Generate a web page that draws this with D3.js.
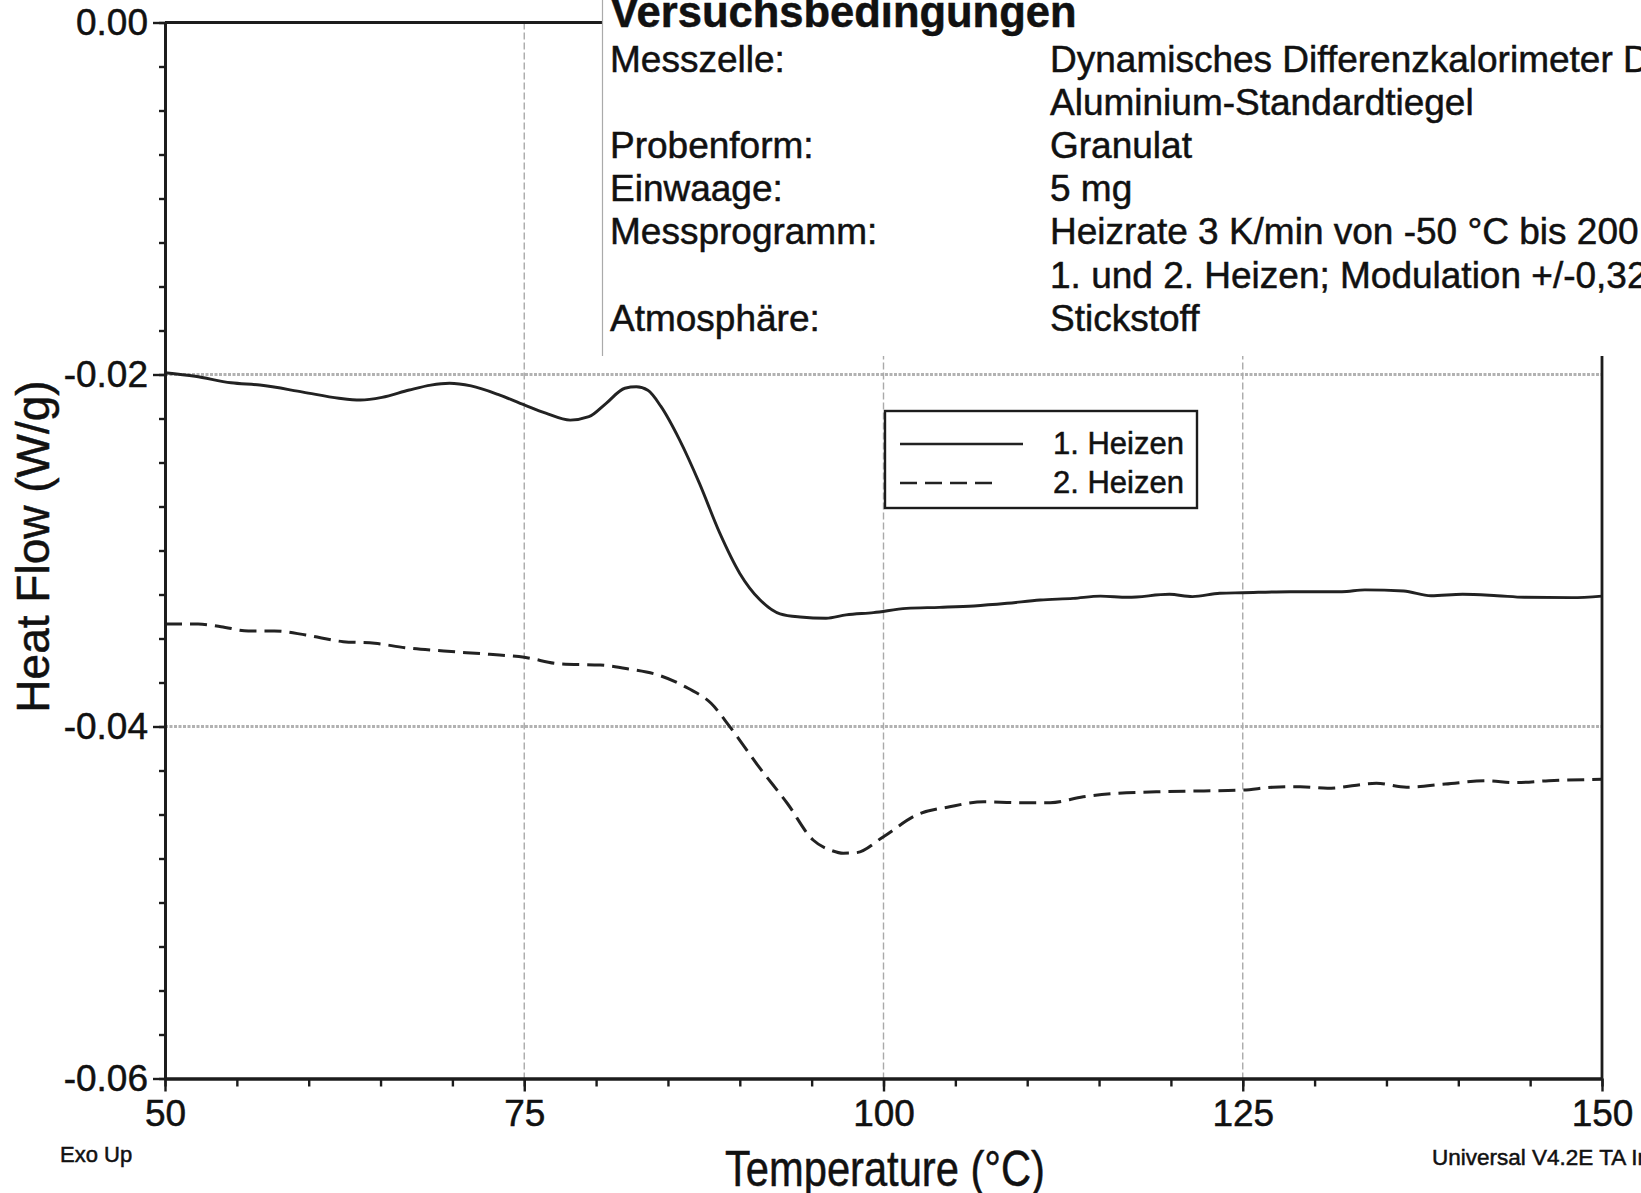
<!DOCTYPE html>
<html>
<head>
<meta charset="utf-8">
<script src="https://cdn.jsdelivr.net/npm/d3@7"></script>
<style>
    body { margin: 0; background: #fff; }
    svg text { font-family: "Liberation Sans", Arial, sans-serif; fill: #111; stroke: #111; stroke-width: 0.5px; }
</style>
</head>
<body>
<svg id="chart"></svg>
<script>
// 1. Heizen (solid)
const temp1 = [50, 52.1, 54.6, 56.6, 59.6, 62.1, 63.6, 65.1, 67.0, 68.5, 69.8, 71.3, 73.3, 75.0, 76.5, 78.2, 79.5, 80.7, 82.0, 82.8, 83.6, 84.5, 85.8, 87.2, 88.6, 90.0, 91.4, 92.8, 94.2, 96.0, 97.4, 99.3, 101.6, 103.9, 106.3, 108.6, 110.9, 113.2, 115.1, 117.0, 119.9, 121.5, 123.4, 125.0, 128.3, 131.9, 133.5, 136.2, 138.1, 140.3, 142.7, 144.6, 147.9, 150];
const heat1 = [-0.0199, -0.0201, -0.02047, -0.0206, -0.0210, -0.02135, -0.02145, -0.0213, -0.02088, -0.0206, -0.0205, -0.02065, -0.02117, -0.02173, -0.0222, -0.02259, -0.0224, -0.02164, -0.02078, -0.0207, -0.0209, -0.0218, -0.0237, -0.0262, -0.0290, -0.0313, -0.0328, -0.0336, -0.03378, -0.03385, -0.03366, -0.03353, -0.03329, -0.03323, -0.03315, -0.0330, -0.03281, -0.03272, -0.03259, -0.03266, -0.03249, -0.03262, -0.03243, -0.0324, -0.03234, -0.03234, -0.03224, -0.0323, -0.03257, -0.03249, -0.03257, -0.03266, -0.03268, -0.03259];

// 2. Heizen (dashed)
const temp2 = [50, 52.3, 53.9, 55.8, 57.6, 59.8, 62.4, 64.6, 66.7, 69.4, 72.6, 75.0, 77.6, 80.3, 82.4, 84.3, 86.4, 88.0, 89.3, 91.4, 93.3, 95.1, 96.4, 97.2, 98.1, 100.0, 102.3, 104.6, 107.0, 109.3, 111.6, 113.9, 116.2, 119.7, 122.3, 125.0, 127.1, 129.0, 130.9, 134.3, 136.4, 139.1, 142.0, 143.9, 146.3, 150];
const heat2 = [-0.03418, -0.03418, -0.03433, -0.03457, -0.03457, -0.0348, -0.03518, -0.03527, -0.03552, -0.03571, -0.0359, -0.03607, -0.03645, -0.03651, -0.03675, -0.03707, -0.03783, -0.03868, -0.04001, -0.04237, -0.04436, -0.04645, -0.04705, -0.0472, -0.04717, -0.04626, -0.04503, -0.04456, -0.04427, -0.04433, -0.04433, -0.04399, -0.0438, -0.0437, -0.04366, -0.04361, -0.04345, -0.04342, -0.04351, -0.04323, -0.04345, -0.04327, -0.04308, -0.04319, -0.04308, -0.043];

const xTicks = [50, 75, 100, 125, 150];
const yTicks = [0, -0.02, -0.04, -0.06];
const xGrid = [75, 100, 125];
const yGrid = [-0.02, -0.04];
const legendLabels = ['1. Heizen', '2. Heizen'];

const conditionLabels = ['Messzelle:', '', 'Probenform:', 'Einwaage:', 'Messprogramm:', '', 'Atmosphäre:'];
const conditionValues = ['Dynamisches Differenzkalorimeter DSC Q1000', 'Aluminium-Standardtiegel', 'Granulat', '5 mg',
    'Heizrate 3 K/min von -50 °C bis 200 °C', '1. und 2. Heizen; Modulation +/-0,32 °C alle 60 s', 'Stickstoff'];

const W = 1641, H = 1193;
const plotL = 165, plotR = 1602, plotT = 22.5, plotB = 1078.5;
const ink = '#1c1c1c';

const svg = d3.select('#chart').attr('width', W).attr('height', H);

const x = d3.scaleLinear().domain([50, 150]).range([plotL, plotR]);
const y = d3.scaleLinear().domain([-0.06, 0]).range([plotB, plotT]);

// Grid
svg.append('g').selectAll('line')
    .data(yGrid).join('line')
    .attr('x1', plotL).attr('x2', plotR)
    .attr('y1', d => y(d)).attr('y2', d => y(d))
    .attr('stroke', '#b2b2b2').attr('stroke-width', 3).attr('stroke-dasharray', '3,1.5');

svg.append('g').selectAll('line')
    .data(xGrid).join('line')
    .attr('x1', d => x(d)).attr('x2', d => x(d))
    .attr('y1', plotT).attr('y2', plotB)
    .attr('stroke', '#aaa').attr('stroke-width', 1.4).attr('stroke-dasharray', '7,3');

// Curves
const line = d3.line()
    .x(d => x(d[0]))
    .y(d => y(d[1]))
    .curve(d3.curveMonotoneX);

svg.append('path')
    .datum(d3.zip(temp1, heat1))
    .attr('d', line)
    .attr('fill', 'none').attr('stroke', '#222').attr('stroke-width', 2.9);

svg.append('path')
    .datum(d3.zip(temp2, heat2))
    .attr('d', line)
    .attr('fill', 'none').attr('stroke', '#222').attr('stroke-width', 3)
    .attr('stroke-dasharray', '17,8');

// Frame (top + right)
svg.append('line').attr('x1', plotL).attr('x2', plotR).attr('y1', plotT).attr('y2', plotT)
    .attr('stroke', ink).attr('stroke-width', 2.8);
svg.append('line').attr('x1', plotR).attr('x2', plotR).attr('y1', plotT).attr('y2', plotB)
    .attr('stroke', ink).attr('stroke-width', 2.8);

// Axes
function styleAxis(g) {
    g.select('.domain').attr('stroke', ink).attr('stroke-width', 2.8);
    g.selectAll('.tick line').attr('stroke', ink).attr('stroke-width', 2.4);
    g.selectAll('.tick text').attr('fill', '#111').style('font-size', '37px')
        .style('font-family', '"Liberation Sans", Arial, sans-serif');
}

svg.append('g')
    .attr('transform', `translate(${plotL},0)`)
    .call(d3.axisLeft(y).tickValues(d3.range(0, 25).map(i => -0.0025 * i)).tickSize(6).tickSizeOuter(0).tickFormat(''))
    .call(styleAxis);

svg.append('g')
    .attr('transform', `translate(${plotL},0)`)
    .call(d3.axisLeft(y).tickValues(yTicks).tickSize(12).tickSizeOuter(0).tickPadding(5).tickFormat(d => d.toFixed(2)))
    .call(styleAxis);

svg.append('g')
    .attr('transform', `translate(0,${plotB})`)
    .call(d3.axisBottom(x).tickValues(d3.range(50, 151, 5)).tickSize(8).tickSizeOuter(0).tickFormat(''))
    .call(styleAxis);

svg.append('g')
    .attr('transform', `translate(0,${plotB})`)
    .call(d3.axisBottom(x).tickValues(xTicks).tickSize(13).tickSizeOuter(0).tickPadding(8).tickFormat(d3.format('d')))
    .call(styleAxis);

// Axis titles
svg.append('text')
    .attr('transform', `translate(49,${(383 + 710) / 2}) rotate(-90)`)
    .attr('text-anchor', 'middle')
    .style('font-size', '46px')
    .text('Heat Flow (W/g)');

svg.append('text')
    .attr('x', 725).attr('y', 1186)
    .attr('textLength', 320).attr('lengthAdjust', 'spacingAndGlyphs')
    .style('font-size', '50px')
    .text('Temperature (°C)');

svg.append('text').attr('x', 60).attr('y', 1162).style('font-size', '22px').text('Exo Up');
svg.append('text').attr('x', 1432).attr('y', 1165).style('font-size', '22.5px').text('Universal V4.2E TA Instruments');

// Legend
const legend = svg.append('g');
legend.append('rect')
    .attr('x', 885).attr('y', 411).attr('width', 312).attr('height', 97)
    .attr('fill', '#fff').attr('stroke', ink).attr('stroke-width', 2.4);
legendLabels.forEach((label, i) => {
    const ly = 444 + i * 39;
    legend.append('line')
        .attr('x1', 900).attr('x2', i === 0 ? 1023 : 993)
        .attr('y1', ly).attr('y2', ly)
        .attr('stroke', '#222').attr('stroke-width', 2.6)
        .attr('stroke-dasharray', i === 0 ? null : '17,8');
    legend.append('text')
        .attr('x', 1053).attr('y', ly + 10)
        .style('font-size', '31px')
        .text(label);
});

// Versuchsbedingungen box
const box = svg.append('g');
box.append('rect').attr('x', 602).attr('y', 0).attr('width', W - 602).attr('height', 356).attr('fill', '#fff');
box.append('line').attr('x1', 602.5).attr('x2', 602.5).attr('y1', 0).attr('y2', 356)
    .attr('stroke', '#aaa').attr('stroke-width', 1.2);
box.append('text')
    .attr('x', 610).attr('y', 27)
    .style('font-size', '43.5px').style('font-weight', 'bold')
    .text('Versuchsbedingungen');
conditionLabels.forEach((label, i) => {
    const by = 72 + i * 43.1;
    if (label) box.append('text').attr('x', 610).attr('y', by).style('font-size', '37px').text(label);
    box.append('text').attr('x', 1050).attr('y', by).style('font-size', '37px').text(conditionValues[i]);
});
</script>
</body>
</html>
